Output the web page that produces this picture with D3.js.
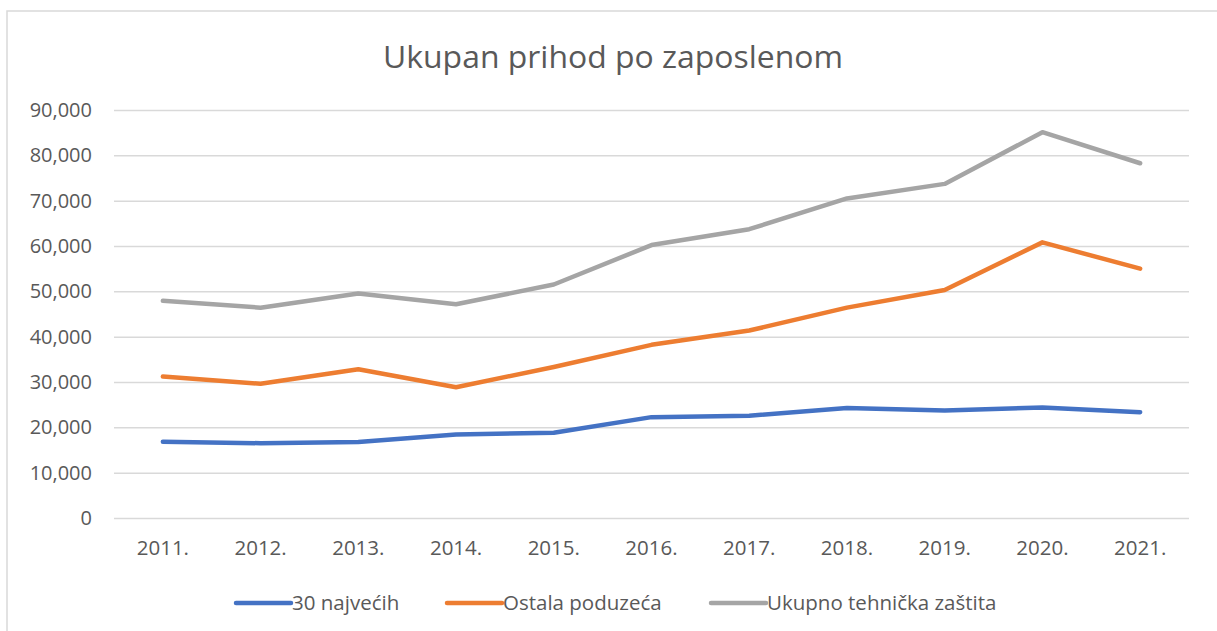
<!DOCTYPE html>
<html>
<head>
<meta charset="utf-8">
<script src="https://cdn.jsdelivr.net/npm/d3@7"></script>
<style>
  body { margin: 0; background: #fff; }
  text { font-family: "Open Sans", "Noto Sans", sans-serif; fill: #595959; }
</style>
</head>
<body>
<div class="chart"></div>
<script>
const years = ["2011.", "2012.", "2013.", "2014.", "2015.", "2016.", "2017.", "2018.", "2019.", "2020.", "2021."];
const najveci = [16800, 16500, 16750, 18400, 18800, 22250, 22550, 24250, 23700, 24400, 23350];
const ostala = [31200, 29600, 32800, 28850, 33300, 38200, 41350, 46400, 50300, 60800, 55000];
const ukupno = [47900, 46400, 49500, 47150, 51500, 60200, 63700, 70500, 73700, 85100, 78250];
const yTicks = [0, 10000, 20000, 30000, 40000, 50000, 60000, 70000, 80000, 90000];
const seriesNames = ["30 najvećih", "Ostala poduzeća", "Ukupno tehnička zaštita"];
const colors = ["#4472C4", "#ED7D31", "#A5A5A5"];

const width = 1217;
const height = 631;

let svg = d3.select(".chart").append("svg")
    .attr("width", width)
    .attr("height", height);

// chart border (only top and left are visible in the crop)
svg.append("rect")
    .attr("x", 7).attr("y", 11)
    .attr("width", width + 20).attr("height", height + 20)
    .attr("fill", "none")
    .attr("stroke", "#D9D9D9")
    .attr("stroke-width", 1.5);

svg.append("text")
    .attr("x", 613).attr("y", 68)
    .attr("text-anchor", "middle")
    .attr("font-size", 31)
    .attr("textLength", 460)
    .attr("lengthAdjust", "spacingAndGlyphs")
    .text("Ukupan prihod po zaposlenom");

let xScale = d3.scaleBand()
    .domain(years)
    .range([114, 1189]);

let yScale = d3.scaleLinear()
    .domain([0, 90000])
    .range([518, 110]);

// gridlines + y labels
let yAxis = d3.axisLeft(yScale)
    .tickValues(yTicks)
    .tickSize(-(1189 - 114))
    .tickPadding(22)
    .tickFormat(d3.format(","));

let gy = svg.append("g")
    .attr("transform", "translate(114,0)")
    .call(yAxis);
gy.select(".domain").remove();
gy.selectAll(".tick line").attr("stroke", "#D9D9D9").attr("stroke-width", 1.5);
gy.selectAll(".tick text").attr("font-size", 20).attr("fill", "#595959")
    .style("font-family", "'Open Sans', sans-serif");

let xAxis = d3.axisBottom(xScale).tickSize(0).tickPadding(22);
let gx = svg.append("g")
    .attr("transform", "translate(0,518)")
    .call(xAxis);
gx.select(".domain").remove();
gx.selectAll(".tick text").attr("font-size", 20.5).attr("fill", "#595959")
    .style("font-family", "'Open Sans', sans-serif");

let line = d3.line()
    .x((d, i) => xScale(years[i]) + xScale.bandwidth() / 2)
    .y(d => yScale(d));

[najveci, ostala, ukupno].forEach((values, i) => {
    svg.append("path")
        .datum(values)
        .attr("fill", "none")
        .attr("stroke", colors[i])
        .attr("stroke-width", 4.5)
        .attr("stroke-linecap", "round")
        .attr("stroke-linejoin", "round")
        .attr("d", line);
});

// legend
const legendX = [236, 447, 711];
seriesNames.forEach((name, i) => {
    let g = svg.append("g").attr("transform", "translate(" + legendX[i] + ",603)");
    g.append("line")
        .attr("x1", 0).attr("x2", 55)
        .attr("stroke", colors[i])
        .attr("stroke-width", 4.5)
        .attr("stroke-linecap", "round");
    g.append("text")
        .attr("x", 56).attr("y", 7)
        .attr("font-size", 20.5)
        .text(name);
});
</script>
</body>
</html>
